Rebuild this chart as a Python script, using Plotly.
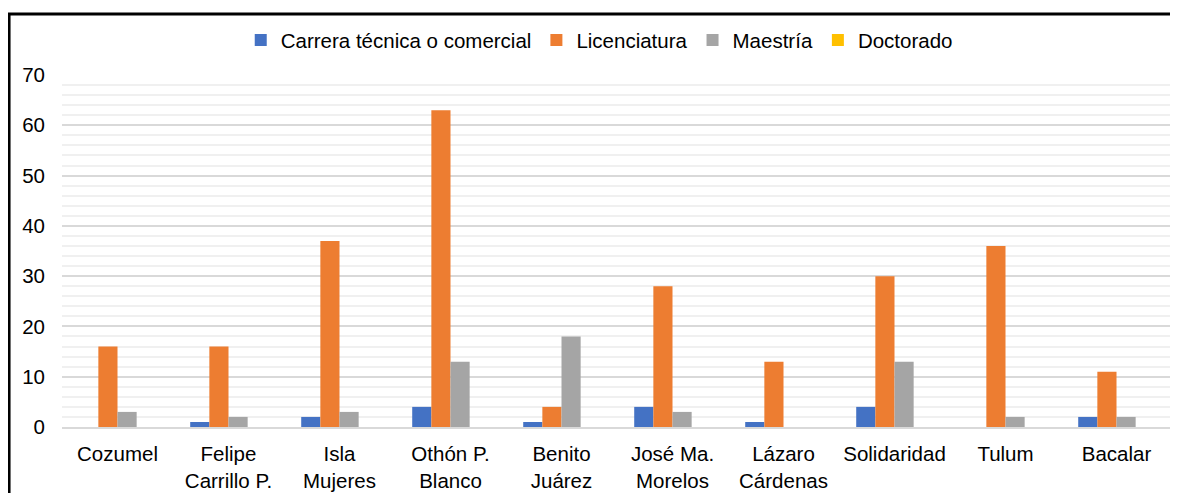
import plotly.graph_objects as go

municipios = ["Cozumel", "Felipe<br>Carrillo P.", "Isla<br>Mujeres", "Othón P.<br>Blanco",
              "Benito<br>Juárez", "José Ma.<br>Morelos", "Lázaro<br>Cárdenas",
              "Solidaridad", "Tulum", "Bacalar"]
carrera_tecnica = [0, 1, 2, 4, 1, 4, 1, 4, 0, 2]
licenciatura = [16, 16, 37, 63, 4, 28, 13, 30, 36, 11]
maestria = [3, 2, 3, 13, 18, 3, 0, 13, 2, 2]
doctorado = [0, 0, 0, 0, 0, 0, 0, 0, 0, 0]

series = [
    ("Carrera técnica o comercial", carrera_tecnica, "#4472C4"),
    ("Licenciatura", licenciatura, "#ED7D31"),
    ("Maestría", maestria, "#A5A5A5"),
    ("Doctorado", doctorado, "#FFC000"),
]

fig = go.Figure()
for name, vals, color in series:
    fig.add_trace(go.Bar(x=municipios, y=vals, name=name, marker_color=color,
                         marker_line_width=0))

# page body has an 8px margin, so the figure is a bit smaller than the window
fig.update_layout(
    width=1170,
    height=485,
    barmode="group",
    bargap=0.31,
    bargroupgap=0,
    plot_bgcolor="white",
    paper_bgcolor="white",
    font=dict(family="Liberation Sans, Arial, sans-serif", size=20.5, color="#000000"),
    margin=dict(l=54, r=6, t=67, b=66, autoexpand=False),
    legend=dict(orientation="h", x=0.484, xanchor="center", y=1.099, yanchor="middle",
                font=dict(size=20.5), itemwidth=30, traceorder="normal"),
    showlegend=True,
)
fig.update_yaxes(range=[0, 70], dtick=10, showgrid=True, gridcolor="#D9D9D9", gridwidth=1.5,
                 zeroline=False, showline=False, ticks="", ticklabelstandoff=16,
                 automargin=False,
                 minor=dict(dtick=2, showgrid=True, gridcolor="#F0F0F0", gridwidth=1.5))
fig.update_xaxes(showline=True, linecolor="#D9D9D9", linewidth=1.5, ticks="", showgrid=False,
                 ticklabelstandoff=8, automargin=False)

# outer frame of the chart
fig.add_shape(type="rect", xref="paper", yref="paper", x0=-0.0477, x1=1.0027, y0=-0.4, y1=1.173,
              line=dict(color="black", width=3), fillcolor="rgba(0,0,0,0)", layer="above")

fig.write_html("out.html")
